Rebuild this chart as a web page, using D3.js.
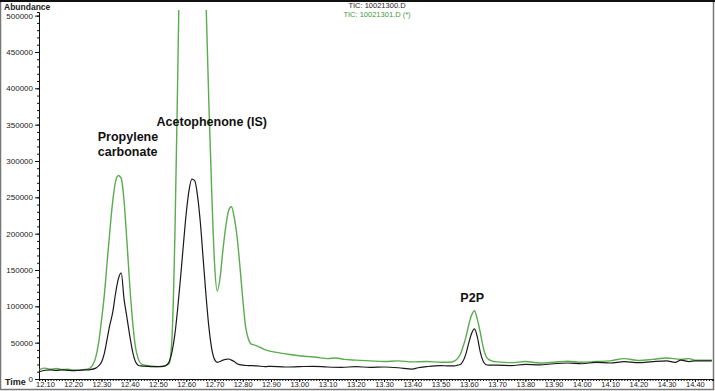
<!DOCTYPE html>
<html>
<head>
<meta charset="utf-8">
<script src="https://cdn.jsdelivr.net/npm/d3@7"></script>
<style>
  body { margin: 0; background: #fff; }
  svg { display: block; font-family: "Liberation Sans", Arial, sans-serif; }
</style>
</head>
<body>
<div id="chart"></div>
<script>
// TIC traces
const blackTime = [12.08, 12.10, 12.12, 12.14, 12.16, 12.18, 12.20, 12.22, 12.24, 12.26, 12.28, 12.29, 12.30, 12.31, 12.32, 12.33, 12.34, 12.35, 12.36, 12.37, 12.38, 12.39, 12.40, 12.41, 12.42, 12.43, 12.44, 12.46, 12.48, 12.50, 12.52, 12.53, 12.54, 12.55, 12.56, 12.57, 12.58, 12.59, 12.60, 12.61, 12.62, 12.63, 12.64, 12.65, 12.66, 12.67, 12.68, 12.69, 12.70, 12.71, 12.72, 12.73, 12.74, 12.75, 12.76, 12.77, 12.78, 12.80, 12.82, 12.85, 12.88, 12.90, 12.95, 13.00, 13.05, 13.10, 13.15, 13.20, 13.25, 13.30, 13.35, 13.40, 13.42, 13.45, 13.50, 13.53, 13.55, 13.56, 13.57, 13.58, 13.59, 13.60, 13.61, 13.62, 13.63, 13.64, 13.65, 13.66, 13.67, 13.70, 13.75, 13.80, 13.85, 13.90, 13.95, 14.00, 14.05, 14.10, 14.15, 14.20, 14.25, 14.30, 14.33, 14.35, 14.38, 14.40, 14.46];
const blackAbundance = [10000, 12000, 12500, 12000, 12500, 12000, 11500, 12000, 12500, 13000, 15000, 18000, 23000, 35000, 55000, 75000, 92000, 118000, 138000, 146000, 110000, 85000, 60000, 38000, 24000, 19000, 18000, 17500, 17000, 17000, 17500, 19000, 24000, 38000, 62000, 98000, 140000, 185000, 228000, 260000, 275000, 273000, 252000, 215000, 165000, 115000, 72000, 42000, 27000, 23000, 24000, 26000, 27000, 27500, 26000, 24000, 21000, 19000, 18500, 18000, 17000, 17500, 16500, 17000, 17500, 16500, 16000, 17000, 16000, 16500, 15500, 13500, 15500, 17000, 18500, 18000, 18000, 19000, 20000, 25000, 35000, 50000, 63000, 69000, 58000, 38000, 25000, 20000, 19000, 19000, 18500, 20000, 19500, 21000, 22000, 21000, 23000, 22000, 24000, 22500, 24000, 25000, 23000, 26000, 24000, 25000, 25000];

const greenTime = [12.08, 12.10, 12.12, 12.14, 12.16, 12.18, 12.20, 12.22, 12.24, 12.26, 12.27, 12.28, 12.29, 12.30, 12.31, 12.32, 12.33, 12.34, 12.35, 12.36, 12.37, 12.38, 12.39, 12.40, 12.41, 12.42, 12.43, 12.44, 12.46, 12.48, 12.50, 12.52, 12.53, 12.54, 12.55, 12.56, 12.57, 12.58, 12.60, 12.62, 12.64, 12.66, 12.67, 12.68, 12.69, 12.70, 12.71, 12.72, 12.73, 12.74, 12.75, 12.76, 12.77, 12.78, 12.79, 12.80, 12.81, 12.82, 12.83, 12.84, 12.86, 12.88, 12.90, 12.93, 12.96, 13.00, 13.03, 13.06, 13.10, 13.13, 13.16, 13.20, 13.25, 13.30, 13.35, 13.40, 13.45, 13.50, 13.53, 13.55, 13.56, 13.57, 13.58, 13.59, 13.60, 13.61, 13.62, 13.63, 13.64, 13.65, 13.66, 13.67, 13.68, 13.70, 13.75, 13.80, 13.85, 13.90, 13.95, 14.00, 14.05, 14.10, 14.15, 14.20, 14.25, 14.30, 14.35, 14.38, 14.40, 14.46];
const greenAbundance = [13000, 15000, 13500, 14500, 13000, 13500, 12500, 12000, 13000, 15000, 20000, 30000, 50000, 80000, 115000, 160000, 205000, 245000, 272000, 280000, 276000, 245000, 190000, 130000, 80000, 45000, 28000, 21000, 18500, 17500, 17000, 18000, 19000, 22000, 60000, 200000, 420000, 650000, 850000, 900000, 850000, 650000, 520000, 380000, 260000, 160000, 121000, 140000, 178000, 210000, 232000, 237000, 222000, 195000, 155000, 110000, 72000, 55000, 48000, 47000, 44000, 40000, 38000, 36000, 34000, 32000, 31000, 30000, 28000, 29000, 27000, 26000, 25000, 24000, 25000, 23500, 24000, 23000, 23000, 25000, 28000, 34000, 45000, 58000, 75000, 88000, 94000, 82000, 65000, 45000, 32000, 27000, 25000, 23500, 22500, 24000, 22000, 23000, 24500, 23000, 24000, 25000, 28000, 25500, 27000, 29000, 27000, 28000, 26000, 26000];

const yTickValues = [0, 50000, 100000, 150000, 200000, 250000, 300000, 350000, 400000, 450000, 500000];
const xTickValues = [12.10, 12.20, 12.30, 12.40, 12.50, 12.60, 12.70, 12.80, 12.90, 13.00, 13.10, 13.20, 13.30, 13.40, 13.50, 13.60, 13.70, 13.80, 13.90, 14.00, 14.10, 14.20, 14.30, 14.40];

const peakLabels = [
    { lines: ["Propylene", "carbonate"], x: 12.287, y: 328000 },
    { lines: ["Acetophenone (IS)"], x: 12.495, y: 348000 },
    { lines: ["P2P"], x: 13.57, y: 106000 }
];

const width = 715, height = 391;
const plotLeft = 39, plotRight = 713, plotTop = 12, plotBottom = 379;

const svg = d3.select('#chart')
    .append('svg')
    .attr('width', width)
    .attr('height', height);

// outer frame
svg.append('rect')
    .attr('x', 0.5).attr('y', 0.5)
    .attr('width', width - 2).attr('height', height - 2)
    .attr('fill', 'none')
    .attr('stroke', '#777')
    .attr('stroke-width', 1.5);
svg.append('line')
    .attr('x1', 0).attr('x2', width)
    .attr('y1', 1).attr('y2', 1)
    .attr('stroke', '#111').attr('stroke-width', 2);

const xScale = d3.scaleLinear().domain([12.079, 14.464]).range([plotLeft, plotRight]);
const yScale = d3.scaleLinear().domain([0, 505000]).range([plotBottom, plotTop]);

svg.append('clipPath').attr('id', 'plot-clip')
    .append('rect')
    .attr('x', plotLeft).attr('y', plotTop - 2)
    .attr('width', plotRight - plotLeft).attr('height', plotBottom - plotTop + 2);

// y axis: minor ticks every 10000, labelled every 50000
const yMinor = d3.range(0, 500001, 10000);
svg.append('g')
    .attr('transform', `translate(${plotLeft},0)`)
    .call(d3.axisLeft(yScale).tickValues(yMinor).tickSize(2).tickFormat(''))
    .call(g => g.select('.domain').attr('stroke', '#111'))
    .call(g => g.selectAll('.tick line').attr('stroke', '#111'));
svg.append('g')
    .attr('transform', `translate(${plotLeft},0)`)
    .call(d3.axisLeft(yScale).tickValues(yTickValues).tickSize(4).tickPadding(2).tickFormat(d3.format('d')))
    .call(g => g.select('.domain').remove())
    .call(g => g.selectAll('.tick line').attr('stroke', '#111'))
    .call(g => g.selectAll('.tick text')
        .attr('font-size', 8)
        .attr('font-family', '"Liberation Sans", Arial, sans-serif')
        .attr('fill', '#222'));

// x axis: minor ticks every 0.01, labelled every 0.1
const xMinor = d3.range(12.08, 14.465, 0.01);
svg.append('g')
    .attr('transform', `translate(0,${plotBottom})`)
    .call(d3.axisBottom(xScale).tickValues(xMinor).tickSize(2).tickFormat(''))
    .call(g => g.select('.domain').attr('stroke', '#111'))
    .call(g => g.selectAll('.tick line').attr('stroke', '#111'));
svg.append('g')
    .attr('transform', `translate(0,${plotBottom})`)
    .call(d3.axisBottom(xScale).tickValues(xTickValues).tickSize(3).tickPadding(0).tickFormat(d3.format('.2f')))
    .call(g => g.select('.domain').remove())
    .call(g => g.selectAll('.tick line').attr('stroke', '#111'))
    .call(g => g.selectAll('.tick text')
        .attr('font-size', 7.5)
        .attr('font-family', '"Liberation Sans", Arial, sans-serif')
        .attr('fill', '#222'));

svg.append('text')
    .attr('x', 4).attr('y', 10)
    .attr('font-size', 8.5).attr('font-weight', 'bold')
    .attr('fill', '#222')
    .text('Abundance');
svg.append('text')
    .attr('x', 5).attr('y', 385)
    .attr('font-size', 9).attr('font-weight', 'bold')
    .attr('fill', '#222')
    .text('Time');

// traces
const line = d3.line()
    .x(d => xScale(d[0]))
    .y(d => yScale(d[1]))
    .curve(d3.curveMonotoneX);

const plot = svg.append('g').attr('clip-path', 'url(#plot-clip)');
plot.append('path')
    .datum(d3.zip(greenTime, greenAbundance))
    .attr('d', line)
    .attr('fill', 'none')
    .attr('stroke', '#5aac4e')
    .attr('stroke-width', 1.4);
plot.append('path')
    .datum(d3.zip(blackTime, blackAbundance))
    .attr('d', line)
    .attr('fill', 'none')
    .attr('stroke', '#1a1a1a')
    .attr('stroke-width', 1.2);

// legend titles
svg.append('text')
    .attr('x', 377).attr('y', 8)
    .attr('text-anchor', 'middle')
    .attr('font-size', 7.5)
    .attr('fill', '#222')
    .text('TIC: 10021300.D');
svg.append('text')
    .attr('x', 377).attr('y', 17)
    .attr('text-anchor', 'middle')
    .attr('font-size', 7.5)
    .attr('fill', '#3d9a3a')
    .text('TIC: 10021301.D (*)');

// peak annotations
peakLabels.forEach(p => {
    const t = svg.append('text')
        .attr('x', xScale(p.x))
        .attr('y', yScale(p.y))
        .attr('font-size', 12.5)
        .attr('font-weight', 'bold')
        .attr('fill', '#111');
    p.lines.forEach((s, i) => {
        t.append('tspan')
            .attr('x', xScale(p.x))
            .attr('dy', i === 0 ? 0 : 15)
            .text(s);
    });
});
</script>
</body>
</html>
